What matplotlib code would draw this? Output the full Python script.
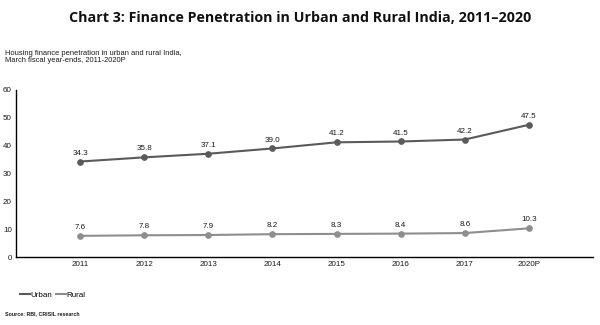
import matplotlib
matplotlib.use("Agg")
import matplotlib.pyplot as plt
from matplotlib.lines import Line2D

years = ["2011", "2012", "2013", "2014", "2015", "2016", "2017", "2020P"]
urban = [34.3, 35.8, 37.1, 39.0, 41.2, 41.5, 42.2, 47.5]
rural = [7.6, 7.8, 7.9, 8.2, 8.3, 8.4, 8.6, 10.3]
yticks = [0, 10, 20, 30, 40, 50, 60]

urban_c = "#5a5a5a"
rural_c = "#8e8e8e"

fig = plt.figure(figsize=(6, 3.25), dpi=100)
W, H = 600, 325
ax = fig.add_axes([16 / W, 1 - 257 / H, (593 - 16) / W, (257 - 90) / H])

x = list(range(len(years)))
ax.plot(x, urban, color=urban_c, lw=1.5, marker="o", ms=3.8)
ax.plot(x, rural, color=rural_c, lw=1.5, marker="o", ms=3.8)
for xi, v in zip(x, urban):
    ax.annotate(f"{v:.1f}", (xi, v), xytext=(0, 3.5), textcoords="offset points",
                ha="center", va="bottom", fontsize=5.8, family="Liberation Sans", color="#1a1a1a")
for xi, v in zip(x, rural):
    ax.annotate(f"{v:.1f}", (xi, v), xytext=(0, 3.5), textcoords="offset points",
                ha="center", va="bottom", fontsize=5.8, family="Liberation Sans", color="#1a1a1a")

ax.set_xlim(-1, 8)
ax.set_ylim(0, 60)
ax.set_yticks(yticks)
ax.set_yticklabels([str(t) for t in yticks], fontsize=5.8, family="Liberation Sans", color="#1a1a1a")
ax.set_xticks(x)
ax.set_xticklabels(years, fontsize=5.8, family="Liberation Sans", color="#1a1a1a")
ax.tick_params(axis="both", length=0, pad=3)
for s in ["top", "right"]:
    ax.spines[s].set_visible(False)
ax.spines["left"].set_linewidth(1.0)
ax.spines["bottom"].set_linewidth(1.0)

fig.text(0.5, 1 - 18 / H, "Chart 3: Finance Penetration in Urban and Rural India, 2011\u20132020",
         ha="center", va="center", fontsize=10.3, fontweight="bold", family="Open Sans", color="#111111")
fig.text(5 / W, 1 - 50 / H, "Housing finance penetration in urban and rural India,\nMarch fiscal year-ends, 2011-2020P",
         ha="left", va="top", fontsize=5.4, family="Liberation Sans", color="#1a1a1a", linespacing=1.0)

handles = [Line2D([], [], color=urban_c, lw=1.5), Line2D([], [], color=rural_c, lw=1.5)]
fig.legend(handles, ["Urban", "Rural"], loc="center left", bbox_to_anchor=(16 / W, 1 - 295 / H),
           frameon=False, ncol=2, prop={"family": "Liberation Sans", "size": 5.8},
           handlelength=1.2, handletextpad=0.1, columnspacing=0.5, borderpad=0)
fig.text(5 / W, 1 - 314 / H, "Source: RBI, CRISIL research", ha="left", va="center",
         fontsize=3.8, fontweight="bold", family="Liberation Sans", color="#1a1a1a")

fig.savefig("out.png", dpi=100)
